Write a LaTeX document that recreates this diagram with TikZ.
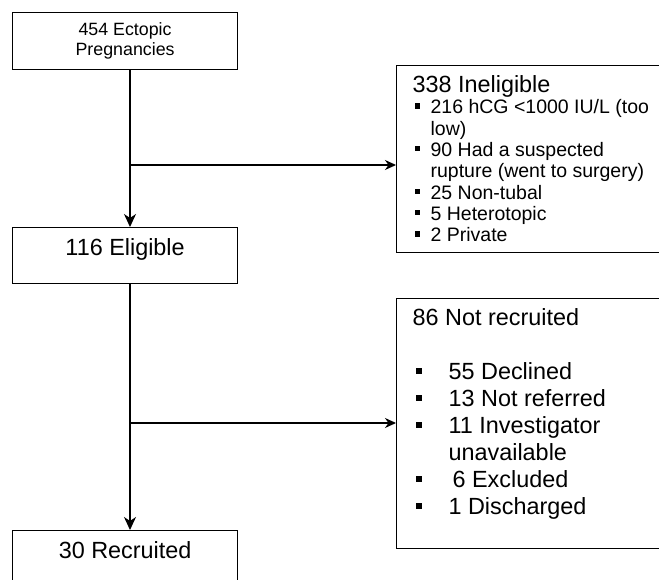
\documentclass[tikz,border=0pt]{standalone}
\usepackage{fontspec}
\setmainfont{Liberation Sans}
\usepackage{tikz}
\usetikzlibrary{arrows.meta}
\tikzstyle{start} = [rectangle, draw=black, line width=1.2pt, minimum width=225pt, minimum height=57pt, inner sep=0pt, align=center, font=\fontsize{17.8}{19.5}\selectfont]
\tikzstyle{stage} = [rectangle, draw=black, line width=1.2pt, minimum width=225pt, minimum height=56pt, inner sep=0pt, text centered, text height=10pt, text depth=10pt, font=\fontsize{23.4}{27}\selectfont]
\tikzstyle{dropout} = [rectangle, draw=black, line width=1.2pt, inner sep=0pt]
\tikzstyle{arrow} = [line width=1.2pt, -{Stealth[length=13pt,width=12pt,inset=4pt]}]
\tikzstyle{arrowside} = [line width=1.2pt, -{Stealth[length=11pt,width=10pt,inset=3.5pt]}]
\newcommand{\inelitem}[1]{\hspace*{18pt}\raisebox{5pt}{\rule{5.5pt}{5.5pt}}\hspace*{10.5pt}#1}
\newcommand{\notitem}[1]{\hspace*{19pt}\raisebox{5.5pt}{\rule{6pt}{6pt}}\hspace*{27pt}#1}
\begin{document}
\begin{tikzpicture}[x=1pt, y=-1pt]
  \path[use as bounding box, clip] (0,0) rectangle (659,580);

  \node (preg) [start, anchor=north west] at (12,12) {454 Ectopic\\Pregnancies};
  \node (elig) [stage, anchor=north west] at (12,227) {116 Eligible};
  \node (recr) [stage, anchor=north west] at (12,530) {30 Recruited};

  \node (inel) [dropout, anchor=north west] at (396,65) {\parbox[c][187pt][t]{300pt}{%
    \fontsize{19.5}{21.3}\selectfont
    \rule{0pt}{27pt}\hspace*{16pt}{\fontsize{23.4}{21.3}\selectfont 338 Ineligible}\\
    \inelitem{216 hCG <1000 IU/L (too}\\
    \hspace*{34pt}low)\\
    \inelitem{90 Had a suspected}\\
    \hspace*{34pt}rupture (went to surgery)\\
    \inelitem{25 Non-tubal}\\
    \inelitem{5 Heterotopic}\\
    \inelitem{2 Private}}};

  \node (notr) [dropout, anchor=north west] at (396,298) {\parbox[c][250pt][t]{300pt}{%
    \fontsize{23.4}{27}\selectfont
    \rule{0pt}{27pt}\hspace*{16pt}86 Not recruited\\[27pt]
    \notitem{55 Declined}\\
    \notitem{13 Not referred}\\
    \notitem{11 Investigator}\\
    \hspace*{52pt}unavailable\\
    \notitem{\hspace*{4pt}6 Excluded}\\
    \notitem{1 Discharged}}};

  % branch points on the main line
  \coordinate (split1) at (130,165);
  \coordinate (split2) at (130,423);

  \draw[arrow] (preg.south -| split1) -- (elig.north -| split1);
  \draw[arrowside] (split1) -- (inel.west |- split1);
  \draw[arrow] (elig.south -| split1) -- (recr.north -| split1);
  \draw[arrowside] (split2) -- (notr.west |- split2);

\end{tikzpicture}
\end{document}
